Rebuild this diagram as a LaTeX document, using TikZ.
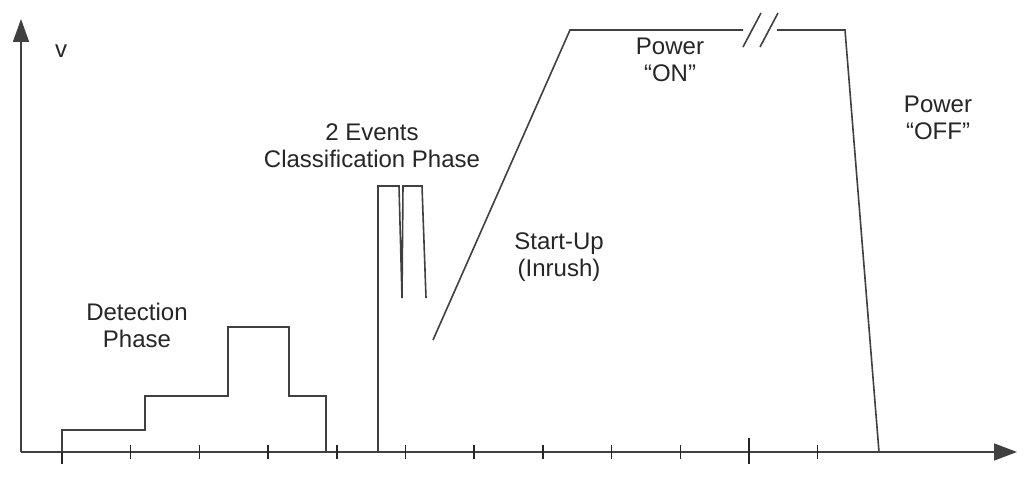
\documentclass[tikz,border=0pt]{standalone}
\usepackage{fontspec}
\setmainfont{Liberation Sans}
\usetikzlibrary{arrows.meta}
\begin{document}
\begin{tikzpicture}[x=1pt,y=-1pt,
  axis/.style={line width=1.6pt,draw=black!75},
  sig/.style={line width=1.6pt,draw=black!75,line join=miter},
  tick/.style={line width=1.5pt,draw=black!85},
  lbl/.style={inner sep=0pt,align=center,font=\fontsize{24}{27}\selectfont,text=black!85}]
\useasboundingbox[fill=white] (0,0) rectangle (1029,489);
% axes
\coordinate (O) at (21,452);
\coordinate (Ytip) at (21,19);
\coordinate (Xtip) at (1017,452);
\draw[axis,-{Triangle[length=23pt,width=16pt]}] (O) -- (Ytip);
\draw[axis,-{Triangle[length=23pt,width=17pt]}] (O) -- (Xtip);
% ticks
\foreach \x in {130.7,199.4,268.1,336.8,405.5,474.2,542.9,611.6,680.3,817.7}
  \draw[tick] (\x,445) -- (\x,459);
\draw[tick] (62,438) -- (62,464);
\draw[tick] (749,438) -- (749,464);
% detection phase
\draw[sig] (62,452) -- (62,430) -- (145,430) -- (145,396) -- (228,396) -- (228,327)
  -- (289,327) -- (289,396) -- (326,396) -- (326,452);
% classification
\draw[sig] (378,452) -- (378,186) -- (399,186) -- (402,298) -- (403,186) -- (422,186) -- (426,298);
% start-up and power on/off
\draw[sig] (433,340) -- (570,30) -- (743,30);
\draw[sig] (777,30) -- (845,30) -- (879,452);
\draw[sig] (743,47) -- (761,13);
\draw[sig] (760,47) -- (778,13);
% labels
\node[lbl,anchor=base] (v) at (61,58) {v};
\node[lbl,anchor=base] (det) at (137,348) {Detection\\Phase};
\node[lbl,anchor=base] (cls) at (372,168) {2 Events\\Classification Phase};
\node[lbl,anchor=base] (st) at (559,277) {Start-Up\\(Inrush)};
\node[lbl,anchor=base] (on) at (670,82) {Power\\“ON”};
\node[lbl,anchor=base] (off) at (938,140) {Power\\“OFF”};
\end{tikzpicture}
\end{document}
